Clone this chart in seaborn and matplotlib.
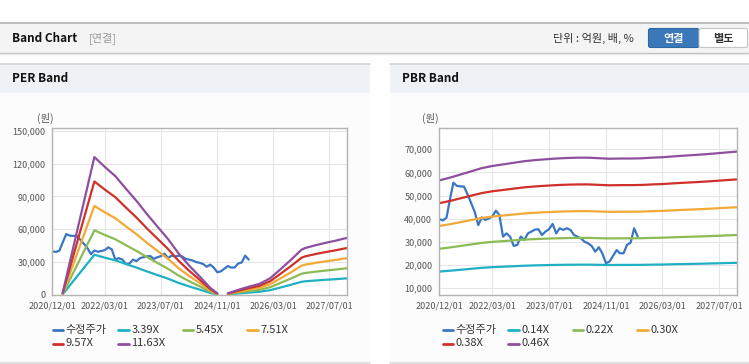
import pandas as pd
import seaborn as sns
import matplotlib.pyplot as plt
import matplotlib.dates as mdates
import matplotlib.transforms as mtransforms
from matplotlib.patches import Rectangle, FancyBboxPatch
from matplotlib.lines import Line2D
from matplotlib.ticker import FuncFormatter

sns.set_style('white')
plt.rcParams['font.family'] = ['Noto Sans CJK KR', 'DejaVu Sans']

# ---- data ----
price_dates = pd.date_range('2020-12-01', periods=57, freq='MS')
price = [39900, 39300, 40500, 48000, 55600, 54200, 54000, 53900, 50500, 46700,
         43000, 37300, 40600, 39500, 40200, 41000, 43500, 41600, 32300, 33700,
         32300, 28300, 28700, 32300, 30900, 33700, 34500, 35300, 35500, 33000,
         34500, 35500, 37800, 33700, 35900, 35200, 35900, 35200, 33000, 32300,
         31500, 30100, 29400, 28300, 25800, 27700, 25100, 20800, 21500, 24000,
         26500, 25100, 25100, 28700, 29700, 35900, 32300]

per_multiples = [3.39, 5.45, 7.51, 9.57, 11.63]
eps_dates_1 = ['2021-03-01', '2021-12-01', '2022-03-01', '2022-06-01', '2022-09-01',
               '2022-12-01', '2023-03-01', '2023-06-01', '2023-09-01', '2023-12-01',
               '2024-03-01', '2024-06-01', '2024-09-01', '2024-11-01']
eps_1 = [170, 10830, 10060, 9330, 8340, 7390, 6360, 5370, 4390, 3270, 2320, 1460, 560, 130]
eps_dates_2 = ['2025-02-01', '2025-05-01', '2025-08-01', '2025-11-01', '2026-02-01',
               '2026-05-01', '2026-08-01', '2026-11-01', '2026-12-01', '2027-03-01',
               '2027-06-01', '2027-09-01', '2027-11-01', '2027-12-01']
eps_2 = [130, 400, 650, 870, 1300, 2000, 2750, 3550, 3680, 3900, 4100, 4280, 4420, 4480]

pbr_multiples = [0.14, 0.22, 0.30, 0.38, 0.46]
bps_dates = pd.date_range('2020-12-01', '2027-12-01', freq='QS-DEC')
bps = [123000, 125500, 128500, 131500, 134500, 136500, 138000, 139500, 141000, 142000,
       142800, 143500, 144000, 144300, 144300, 143800, 143300, 143500, 143500, 143700,
       144300, 144700, 145500, 146200, 146800, 147500, 148300, 149200, 150000]

xtick_labels = ['2020/12/01', '2022/03/01', '2023/07/01', '2024/11/01', '2026/03/01', '2027/07/01']
colors = ['#3a76c4', '#1fb0c6', '#8cbb55', '#f2a936', '#d0302a', '#8f4f9f']

# ---- long tables ----
price_df = pd.DataFrame({'date': price_dates, 'value': price, 'series': '수정주가', 'seg': 0})

per_parts = [price_df]
for m in per_multiples:
    name = f'{m:.2f}X'
    per_parts.append(pd.DataFrame({'date': pd.to_datetime(eps_dates_1),
                                   'value': [e * m for e in eps_1], 'series': name, 'seg': 1}))
    per_parts.append(pd.DataFrame({'date': pd.to_datetime(eps_dates_2),
                                   'value': [e * m for e in eps_2], 'series': name, 'seg': 2}))
per_df = pd.concat(per_parts, ignore_index=True)
per_order = ['수정주가'] + [f'{m:.2f}X' for m in per_multiples]

pbr_parts = [price_df]
for m in pbr_multiples:
    pbr_parts.append(pd.DataFrame({'date': bps_dates, 'value': [b * m for b in bps],
                                   'series': f'{m:.2f}X', 'seg': 1}))
pbr_df = pd.concat(pbr_parts, ignore_index=True)
pbr_order = ['수정주가'] + [f'{m:.2f}X' for m in pbr_multiples]

# ---- figure & page chrome ----
W, H = 749, 364
fig = plt.figure(figsize=(W / 100, H / 100), dpi=100)
px = mtransforms.Affine2D().scale(1 / W, -1 / H).translate(0, 1) + fig.transFigure


def box(x0, y0, x1, y1, fc, ec='none', lw=0):
    fig.add_artist(Rectangle((x0, y0), x1 - x0, y1 - y0, transform=px,
                             fc=fc, ec=ec, lw=lw, zorder=-5))


def hline(x0, x1, y, color, lw=1.0):
    fig.add_artist(Line2D([x0, x1], [y, y], transform=px, color=color, lw=lw, zorder=-4))


def txt(x, y, s, **kw):
    fig.text(x / W, 1 - y / H, s, va='center', **kw)


# top toolbar
box(0, 22.5, W, 52.5, '#f4f4f4')
hline(0, W, 22.5, '#b4b4b4', 1.2)
hline(0, W, 52.8, '#bcbcbc', 1.0)
hline(0, W, 54.0, '#e6e6e6', 1.0)
txt(12, 38.5, 'Band Chart', fontsize=8.5, fontweight='bold', color='#111')
txt(89, 38.5, '[연결]', fontsize=8, color='#999')
txt(553, 38.5, '단위 : 억원, 배, %', fontsize=8, color='#333')
fig.add_artist(FancyBboxPatch((648.5, 28.5), 50.5, 19, boxstyle='round,pad=0,rounding_size=2',
                              transform=px, fc='#3a78ba', ec='#2f67a3', lw=0.8, zorder=-3))
fig.add_artist(FancyBboxPatch((699, 28.5), 48.5, 19, boxstyle='round,pad=0,rounding_size=2',
                              transform=px, fc='white', ec='#c4c4c4', lw=0.8, zorder=-3))
txt(674, 38.5, '연결', fontsize=8, fontweight='bold', color='white', ha='center')
txt(723, 38.5, '별도', fontsize=8, fontweight='bold', color='#333', ha='center')

# panels
for x0, x1, title in [(0, 370, 'PER Band'), (390, W, 'PBR Band')]:
    box(x0, 64, x1, 92.5, '#eef2f7')
    box(x0, 92.5, x1, 362, '#fcfcfc')
    hline(x0, x1, 64, '#d2d2d2', 1.2)
    hline(x0, x1, 362.5, '#dadada', 1.2)
    txt(x0 + 12, 79, title, fontsize=8.5, fontweight='bold', color='#111')


def style_axes(ax, ylim, yticks):
    ax.set_xlim(pd.Timestamp('2020-12-01'), pd.Timestamp('2027-12-04'))
    ax.set_ylim(*ylim)
    ax.set_yticks(yticks)
    ax.set_xticks(pd.to_datetime([s.replace('/', '-') for s in xtick_labels]))
    ax.xaxis.set_major_formatter(mdates.DateFormatter('%Y/%m/%d'))
    ax.yaxis.set_major_formatter(FuncFormatter(lambda v, p: f'{int(v):,}'))
    ax.grid(True, color='#e6e6e6', linewidth=0.8)
    ax.set_axisbelow(True)
    for s in ax.spines.values():
        s.set_color('#b4b4b4')
        s.set_linewidth(1.0)
    ax.tick_params(axis='both', direction='out', length=3, width=0.8, color='#aaaaaa',
                   labelsize=6.5, labelcolor='#555555', pad=2)
    ax.set_xlabel('')
    ax.set_ylabel('')
    ax.set_facecolor('white')


def legend(x0, labels):
    cols = [0, 65.5, 130, 194.5]
    for i, (lab, c) in enumerate(zip(labels, colors)):
        x = x0 + cols[i % 4]
        y = 330 if i < 4 else 343.5
        fig.add_artist(Line2D([x, x + 10.5], [y, y], transform=px, color=c, lw=2.0))
        txt(x + 13, y, lab, fontsize=8, color='#333')


# PER band
ax1 = fig.add_axes([52.3 / W, 1 - 295 / H, 295 / W, (295 - 128.3) / H])
sns.lineplot(data=per_df, x='date', y='value', hue='series', units='seg', estimator=None,
             hue_order=per_order, palette=colors, legend=False, linewidth=1.6, ax=ax1)
style_axes(ax1, (0, 152200), [0, 30000, 60000, 90000, 120000, 150000])
txt(37, 118, '(원)', fontsize=7.5, color='#555')
legend(52.7, per_order)

# PBR band
ax2 = fig.add_axes([439.3 / W, 1 - 295 / H, 298 / W, (295 - 128.3) / H])
sns.lineplot(data=pbr_df, x='date', y='value', hue='series', units='seg', estimator=None,
             hue_order=pbr_order, palette=colors, legend=False, linewidth=1.6, ax=ax2)
style_axes(ax2, (7100, 79060), [10000, 20000, 30000, 40000, 50000, 60000, 70000])
txt(422, 118, '(원)', fontsize=7.5, color='#555')
legend(442.7, pbr_order)

fig.savefig('out.png', dpi=100)
